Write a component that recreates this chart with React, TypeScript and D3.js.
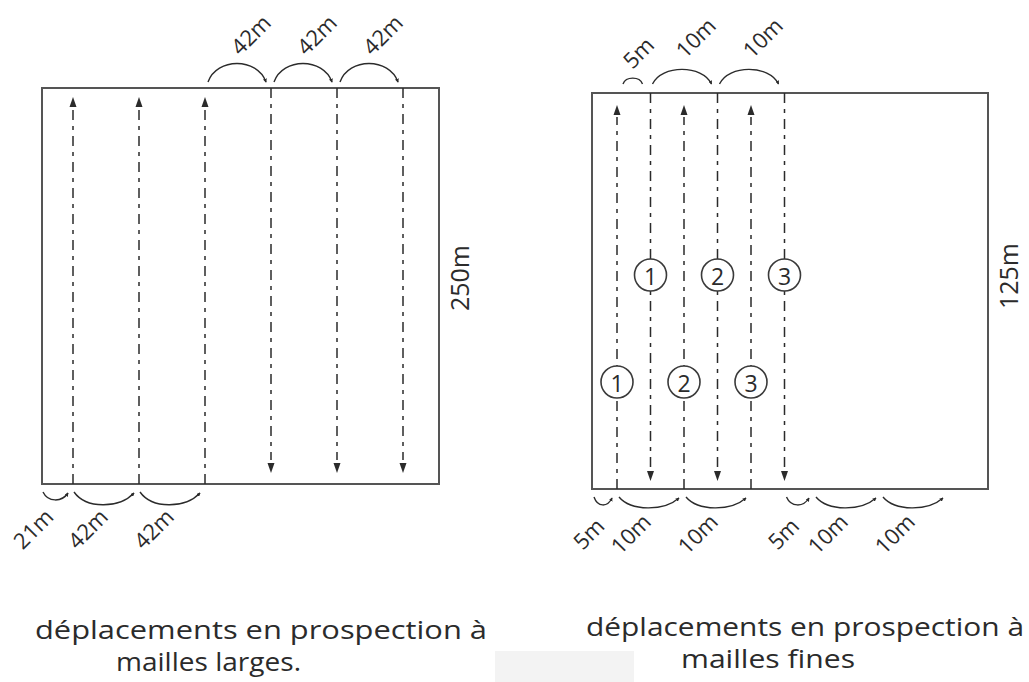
import React from "react";
import * as d3 from "d3";

// ---- data (metres) ----
const leftWidthM = 252;
const leftHeightM = 250;
const leftUpLines = [21, 63, 105];
const leftDownLines = [147, 189, 231];
const leftTopArcs = [
  { from: 105, to: 147, label: "42m" },
  { from: 147, to: 189, label: "42m" },
  { from: 189, to: 231, label: "42m" },
];
const leftBottomArcs = [
  { from: 0, to: 21, label: "21m" },
  { from: 21, to: 63, label: "42m" },
  { from: 63, to: 105, label: "42m" },
];
const leftSideLabel = "250m";

const rightWidthM = 125;
const rightHeightM = 125;
const rightUpLines = [5, 15, 25];
const rightDownLines = [10, 20, 30];
const rightUpNumbers = ["1", "2", "3"];
const rightDownNumbers = ["1", "2", "3"];
const rightTopArcs = [
  { from: 5, to: 10, label: "5m" },
  { from: 10, to: 20, label: "10m" },
  { from: 20, to: 30, label: "10m" },
];
const rightBottomArcs = [
  { from: 0, to: 5, label: "5m" },
  { from: 5, to: 15, label: "10m" },
  { from: 15, to: 25, label: "10m" },
  { from: 30, to: 34.4, label: "5m" },
  { from: 34.4, to: 44.4, label: "10m" },
  { from: 44.4, to: 54.4, label: "10m" },
];
const rightSideLabel = "125m";

const captionLeft = ["déplacements en prospection à", "mailles larges."];
const captionRight = ["déplacements en prospection à", "mailles fines"];

// ---- layout ----
const W = 1029;
const H = 682;
const INK = "#2b2b2b";
const FONT = "'Open Sans', 'Noto Sans', sans-serif";
const DASH = "10,6,4,6";

const xL = d3.scaleLinear().domain([0, 21, 231, leftWidthM]).range([42, 73, 403, 439]);
const yL = d3.scaleLinear().domain([0, leftHeightM]).range([484, 88]);
const xR = d3.scaleLinear().domain([0, 5, 55, rightWidthM]).range([592, 617, 952, 988]);
const yR = d3.scaleLinear().domain([0, rightHeightM]).range([489, 93]);

function topArc(x1: number, x2: number, y0: number, h: number) {
  const w = x2 - x1;
  const p = d3.path();
  p.moveTo(x1, y0);
  p.bezierCurveTo(x1 + 0.15 * w, y0 - 1.3 * h, x2 - 0.15 * w, y0 - 1.3 * h, x2, y0);
  return p.toString();
}
function bottomArc(x1: number, x2: number, y0: number, h: number) {
  const w = x2 - x1;
  const p = d3.path();
  p.moveTo(x1, y0);
  p.bezierCurveTo(x1 + 0.2 * w, y0 + 1.3 * h, x2 - 0.25 * w, y0 + 1.3 * h, x2, y0 + 1);
  return p.toString();
}

function upHead(x: number, tip: number) {
  return `M${x},${tip} L${x - 3.5},${tip + 10} L${x + 3.5},${tip + 10} Z`;
}
function downHead(x: number, tip: number) {
  return `M${x},${tip} L${x - 3.5},${tip - 10} L${x + 3.5},${tip - 10} Z`;
}

function RotLabel({ x, y, text, size = 22 }: { x: number; y: number; text: string; size?: number }) {
  return (
    <text
      transform={`translate(${x},${y}) rotate(-45)`}
      textAnchor="middle"
      dominantBaseline="central"
      fontFamily={FONT}
      fontSize={size}
      fill={INK}
    >
      {text}
    </text>
  );
}

function Circled({ x, y, t }: { x: number; y: number; t: string }) {
  return (
    <g>
      <circle cx={x} cy={y} r={16} fill="#fff" stroke="#3a3a3a" strokeWidth={1.6} />
      <text x={x} y={y + 1} textAnchor="middle" dominantBaseline="central" fontFamily={FONT} fontSize={23} fill={INK}>
        {t}
      </text>
    </g>
  );
}

export default function App() {
  const lTop = yL(leftHeightM);
  const lBot = yL(0);
  const rTop = yR(rightHeightM);
  const rBot = yR(0);

  return (
    <svg width={W} height={H} style={{ position: "absolute", left: 0, top: 0, background: "#fff" }}>
      <defs>
        <marker id="ah" viewBox="0 0 6 6" refX="5" refY="3" markerWidth="4" markerHeight="4" markerUnits="userSpaceOnUse" orient="auto">
          <path d="M0,0 L6,3 L0,6 Z" fill={INK} />
        </marker>
      </defs>
      <rect width={W} height={H} fill="#fff" />

      {/* ---------- LEFT PANEL ---------- */}
      <rect x={xL(0)} y={lTop} width={xL(leftWidthM) - xL(0)} height={lBot - lTop} fill="none" stroke="#555" strokeWidth={2} />
      {leftUpLines.map((m, i) => (
        <g key={"lu" + i}>
          <line x1={xL(m)} x2={xL(m)} y1={lBot} y2={lTop + 22} stroke={INK} strokeWidth={1.5} strokeDasharray={DASH} />
          <path d={upHead(xL(m), lTop + 9)} fill={INK} />
        </g>
      ))}
      {leftDownLines.map((m, i) => (
        <g key={"ld" + i}>
          <line x1={xL(m)} x2={xL(m)} y1={lTop} y2={lBot - 24} stroke={INK} strokeWidth={1.5} strokeDasharray={DASH} />
          <path d={downHead(xL(m), lBot - 11)} fill={INK} />
        </g>
      ))}
      {leftTopArcs.map((a, i) => {
        const x1 = xL(a.from) + 3;
        const x2 = xL(a.to) - 5;
        return (
          <g key={"lta" + i}>
            <path d={topArc(x1, x2, lTop - 6, 19)} fill="none" stroke={INK} strokeWidth={1.4} markerEnd="url(#ah)" />
            <RotLabel x={(x1 + x2) / 2 + 13} y={lTop - 54} text={a.label} />
          </g>
        );
      })}
      {leftBottomArcs.map((a, i) => {
        const x1 = xL(a.from) + 1;
        const x2 = xL(a.to) - 5;
        const small = a.to - a.from < 30;
        return (
          <g key={"lba" + i}>
            <path d={bottomArc(x1, x2, lBot + 8, small ? 8 : 13)} fill="none" stroke={INK} strokeWidth={1.4} markerEnd="url(#ah)" />
            <RotLabel x={(x1 + x2) / 2 - (small ? 23 : 17)} y={lBot + 44} text={a.label} />
          </g>
        );
      })}
      <text
        transform={`translate(${xL(leftWidthM) + 20},${(lTop + lBot) / 2 - 8}) rotate(-90)`}
        textAnchor="middle"
        dominantBaseline="central"
        fontFamily={FONT}
        fontSize={25}
        fill={INK}
      >
        {leftSideLabel}
      </text>

      {/* ---------- RIGHT PANEL ---------- */}
      <rect x={xR(0)} y={rTop} width={xR(rightWidthM) - xR(0)} height={rBot - rTop} fill="none" stroke="#555" strokeWidth={2} />
      {rightUpLines.map((m, i) => (
        <g key={"ru" + i}>
          <line x1={xR(m)} x2={xR(m)} y1={rBot} y2={rTop + 24} stroke={INK} strokeWidth={1.5} strokeDasharray={DASH} />
          <path d={upHead(xR(m), rTop + 12)} fill={INK} />
          <Circled x={xR(m)} y={382} t={rightUpNumbers[i]} />
        </g>
      ))}
      {rightDownLines.map((m, i) => (
        <g key={"rd" + i}>
          <line x1={xR(m)} x2={xR(m)} y1={rTop} y2={rBot - 20} stroke={INK} strokeWidth={1.5} strokeDasharray={DASH} />
          <path d={downHead(xR(m), rBot - 8)} fill={INK} />
          <Circled x={xR(m)} y={275} t={rightDownNumbers[i]} />
        </g>
      ))}
      {rightTopArcs.map((a, i) => {
        const small = a.to - a.from < 8;
        const x1 = xR(a.from) + (small ? 6 : 2);
        const x2 = xR(a.to) - (small ? 8 : 6);
        return (
          <g key={"rta" + i}>
            <path d={topArc(x1, x2, rTop - 9, small ? 6 : 15)} fill="none" stroke={INK} strokeWidth={1.4} markerEnd={small ? undefined : "url(#ah)"} />
            <RotLabel x={(x1 + x2) / 2 + (small ? 5 : 13)} y={small ? rTop - 41 : rTop - 56} text={a.label} />
          </g>
        );
      })}
      {rightBottomArcs.map((a, i) => {
        const small = a.to - a.from < 8;
        const x1 = xR(a.from) + 2;
        const x2 = xR(a.to) - 5;
        return (
          <g key={"rba" + i}>
            <path d={bottomArc(x1, x2, rBot + 8, small ? 8 : 11)} fill="none" stroke={INK} strokeWidth={1.4} markerEnd="url(#ah)" />
            <RotLabel x={(x1 + x2) / 2 - (small ? 15 : 19)} y={rBot + 44} text={a.label} />
          </g>
        );
      })}
      <text
        transform={`translate(${xR(rightWidthM) + 20},${(rTop + rBot) / 2 - 15}) rotate(-90)`}
        textAnchor="middle"
        dominantBaseline="central"
        fontFamily={FONT}
        fontSize={25}
        fill={INK}
      >
        {rightSideLabel}
      </text>

      {/* ---------- captions ---------- */}
      <rect x={495} y={651} width={139} height={31} fill="#f3f3f3" />
      <text x={35} y={639} fontFamily={FONT} fontSize={26} fill={INK} textLength={452} lengthAdjust="spacingAndGlyphs">
        {captionLeft[0]}
      </text>
      <text x={116} y={671} fontFamily={FONT} fontSize={26} fill={INK} textLength={185} lengthAdjust="spacingAndGlyphs">
        {captionLeft[1]}
      </text>
      <text x={586} y={636} fontFamily={FONT} fontSize={26} fill={INK} textLength={438} lengthAdjust="spacingAndGlyphs">
        {captionRight[0]}
      </text>
      <text x={681} y={668} fontFamily={FONT} fontSize={26} fill={INK} textLength={174} lengthAdjust="spacingAndGlyphs">
        {captionRight[1]}
      </text>
    </svg>
  );
}
